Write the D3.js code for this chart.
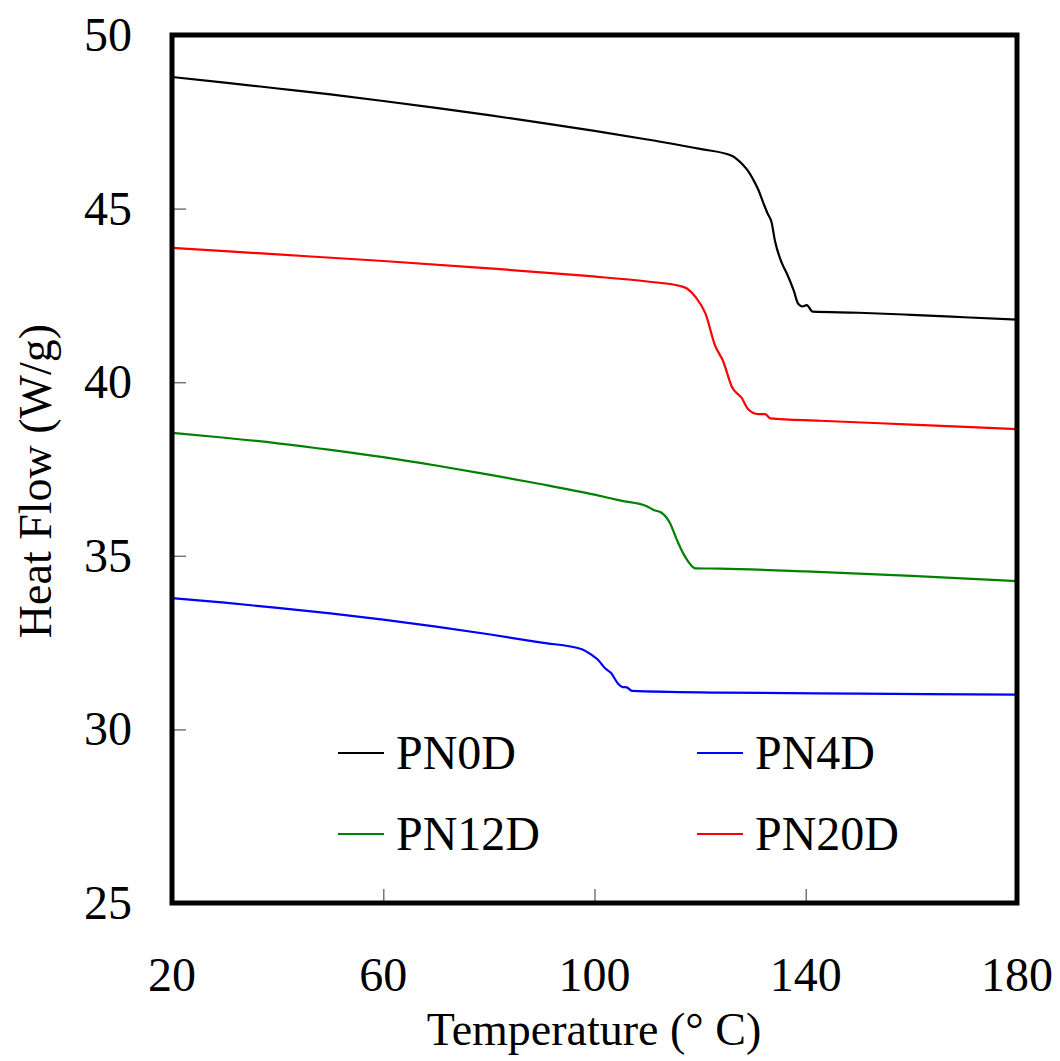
<!DOCTYPE html>
<html><head><meta charset="utf-8">
<script src="https://cdn.jsdelivr.net/npm/d3@7"></script>
<style>body{margin:0;background:#fff}svg{display:block}text{font-family:"Liberation Serif","Times New Roman",serif;fill:#000}</style>
</head><body>
<script>
// Temperature (°C) / Heat flow (W/g) per series
const pn0dT = [20,30,40,50,60,70,80,90,100,110,120,126,127,128,129,130,131,132,132.8,133.5,134.2,135.5,136.4,137.7,138.6,139.4,140.2,141.3,150,160,170,180];
const pn0dH = [48.79,48.63,48.46,48.29,48.10,47.90,47.69,47.47,47.24,46.99,46.72,46.52,46.42,46.28,46.10,45.85,45.55,45.15,44.85,44.62,44.05,43.42,43.14,42.65,42.25,42.18,42.22,42.03,42.0,41.94,41.87,41.80];
const pn20dT = [20,40,60,80,98.6,110,116.2,117.5,119.1,121.0,122.8,124.4,126.0,127.9,129.1,131.0,132.3,133.3,142.7,160,180];
const pn20dH = [43.87,43.68,43.49,43.28,43.06,42.90,42.77,42.70,42.46,41.98,41.07,40.59,39.87,39.54,39.22,39.08,39.08,38.96,38.89,38.78,38.65];
const pn12dT = [20,30,40,50,60,70,80,90,100,105,109.9,111.2,112.7,114.3,115.6,117.2,119.1,123.8,140,160,180];
const pn12dH = [38.54,38.40,38.24,38.05,37.84,37.60,37.34,37.06,36.76,36.59,36.43,36.32,36.24,35.94,35.46,34.96,34.64,34.63,34.55,34.42,34.27];
const pn4dT = [20,30,40,50,60,70,80,90,97.6,99.5,100.7,102.0,103.1,104.5,105.3,106.1,107.1,123.8,150,180];
const pn4dH = [33.78,33.65,33.50,33.34,33.16,32.96,32.74,32.50,32.31,32.14,32.0,31.76,31.63,31.31,31.22,31.21,31.11,31.06,31.03,31.0];
const seriesNames = ["PN0D","PN4D","PN12D","PN20D"];
const seriesColors = ["#000000","#0000ff","#008000","#ff0000"];
const xTicks = [20,60,100,140,180];
const yTicks = [25,30,35,40,45,50];

const W=1060,H=1061;
const L=172,R=1017,T=35,B=903;
const svg=d3.select("body").append("svg").attr("width",W).attr("height",H);
const x=d3.scaleLinear().domain([20,180]).range([L,R]);
const y=d3.scaleLinear().domain([25,50]).range([B,T]);

// ticks (inward, gray)
const gx=svg.append("g").attr("transform",`translate(0,${B})`)
  .call(d3.axisTop(x).tickValues(xTicks.slice(1,-1)).tickSize(14).tickFormat(""));
const gy=svg.append("g").attr("transform",`translate(${L},0)`)
  .call(d3.axisRight(y).tickValues(yTicks.slice(1,-1)).tickSize(14).tickFormat(""));
[gx,gy].forEach(g=>{g.select(".domain").remove();g.selectAll("line").attr("stroke","#777").attr("stroke-width",1.5);});

const series=[
  {name:"PN0D",T:pn0dT,Hf:pn0dH,c:seriesColors[0]},
  {name:"PN20D",T:pn20dT,Hf:pn20dH,c:seriesColors[3]},
  {name:"PN12D",T:pn12dT,Hf:pn12dH,c:seriesColors[2]},
  {name:"PN4D",T:pn4dT,Hf:pn4dH,c:seriesColors[1]}
];
const line=d3.line().x(d=>x(d[0])).y(d=>y(d[1])).curve(d3.curveMonotoneX);
series.forEach(s=>{
  svg.append("path").datum(s.T.map((t,i)=>[t,s.Hf[i]]))
    .attr("d",line).attr("fill","none").attr("stroke",s.c).attr("stroke-width",2.2);
});

// frame
svg.append("rect").attr("x",L).attr("y",T).attr("width",R-L).attr("height",B-T)
  .attr("fill","none").attr("stroke","#000").attr("stroke-width",5);

// tick labels
svg.selectAll(".xl").data(xTicks).enter().append("text")
  .attr("x",d=>x(d)).attr("y",991).attr("text-anchor","middle").attr("font-size",48).text(d=>d);
svg.selectAll(".yl").data(yTicks).enter().append("text")
  .attr("x",132).attr("y",d=>y(d)+16).attr("text-anchor","end").attr("font-size",48).text(d=>d);

// axis titles
svg.append("text").attr("x",594).attr("y",1045).attr("text-anchor","middle").attr("font-size",46).text("Temperature (° C)");
svg.append("text").attr("transform","translate(51,481) rotate(-90)").attr("text-anchor","middle").attr("font-size",46).text("Heat Flow (W/g)");

// legend
const legPos=[[338,753],[697,753],[338,834],[697,834]];
seriesNames.forEach((n,i)=>{
  const [lx,ly]=legPos[i];
  svg.append("line").attr("x1",lx).attr("x2",lx+46).attr("y1",ly).attr("y2",ly)
    .attr("stroke",seriesColors[i]).attr("stroke-width",2.2);
  svg.append("text").attr("x",lx+58).attr("y",ly+16).attr("font-size",48).text(n);
});
</script>
</body></html>
